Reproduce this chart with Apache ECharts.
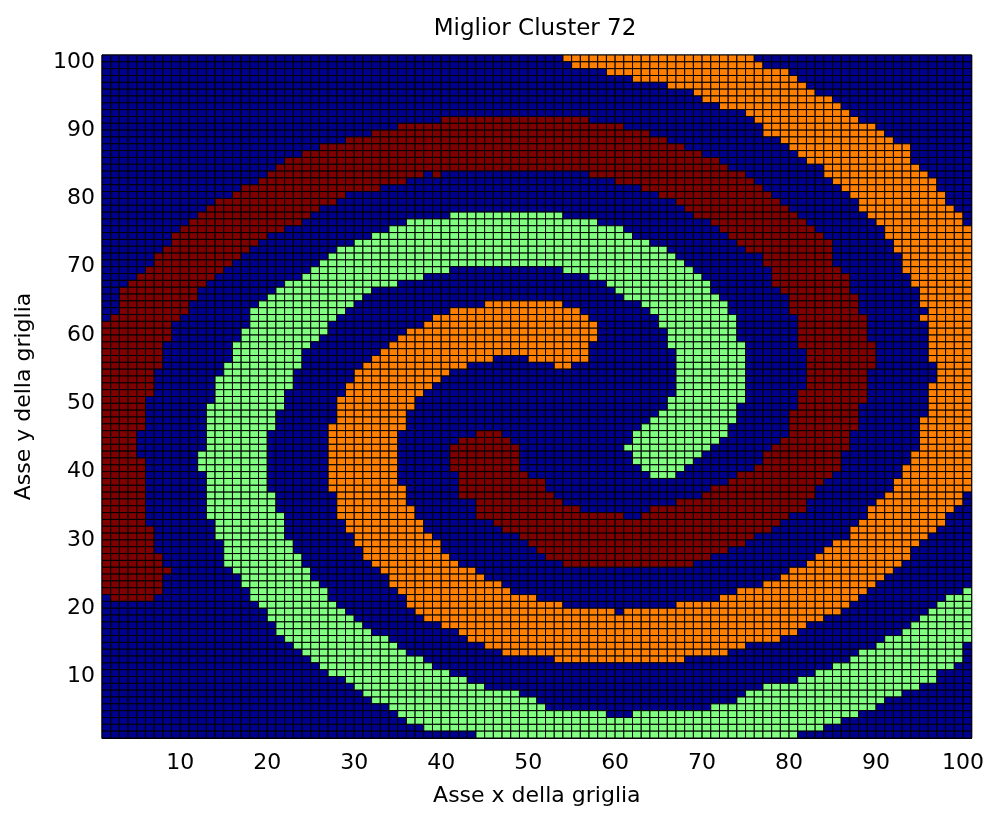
<!DOCTYPE html>
<html>
<head>
<meta charset="utf-8">
<title>Miglior Cluster 72</title>
<script src="https://cdn.jsdelivr.net/npm/echarts@6/dist/echarts.min.js"></script>
<style>
  html, body { margin: 0; padding: 0; background: #fff; }
  #chart { width: 987px; height: 816px; }
</style>
</head>
<body>
<div id="chart"></div>
<script>
// una stringa per riga della griglia, dall'alto (y = 100) verso il basso (y = 1)
// ogni stringa elenca gli intervalli di colonne (1..100) occupati dal cluster
const redRows = [
  '', '', '', '', '', '', '', '', '', '40-56',
  '35-60', '32-63', '29-65', '26-67', '24-69', '22-71', '21-72', '20-37,39,57-74', '19-35,60-75', '17-32,63-76',
  '16-28,65-77', '14-27,67-78', '13-25,68-79', '12-24,69-80', '11-23,71-81', '10-21,72-82', '9-19,73-83', '9-18,74-84', '8-17,75-84', '7-16,77-84',
  '7-15,77-84', '6-14,78-85', '5-13,78-86', '4-12,78-86', '3-11,79-86', '3-11,80-87', '3-10,80-87', '3-10,80-87', '2-9,81-88', '1-8,81-88',
  '1-8,81-88', '1-8,81-88', '1-7,81-89', '1-7,82-89', '1-7,82-89', '1-7,82-89', '1-6,82-88', '1-6,82-88', '1-6,82-88', '1-6,81-88',
  '1-5,81-88', '1-5,81-87', '1-5,80-87', '1-5,80-87', '1-5,80-87', '1-4,44-46,80-86', '1-4,42-47,79-86', '1-4,41-48,78-86', '1-4,41-48,77-85', '1-5,41-48,77-85',
  '1-5,41-48,76-85', '1-5,42-49,74-84', '1-5,42-51,73-83', '1-5,42-51,71-82', '1-5,42-52,70-82', '1-5,44-53,67-81', '1-5,44-55,64-81', '1-5,44-60,63-79', '1-5,46-78', '1-6,47-77',
  '1-6,49-75', '1-6,50-74', '1-6,51-72', '1-7,52-70', '1-7,54-68', '1-8', '1-7', '1-7', '1-7', '2-6',
  '', '', '', '', '', '', '', '', '', '',
  '', '', '', '', '', '', '', '', '', ''
]

const orangeRows = [
  '54-75', '55-76', '59-79', '62-80', '66-81', '69-82', '70-84', '72-85', '75-86', '76-87',
  '77-89', '77-90', '79-91', '80-93', '81-93', '82-93', '84-94', '84-95', '85-96', '86-96',
  '87-97', '88-97', '88-98', '89-99', '90-99', '91-100', '91-100', '92-100', '92-100', '93-100',
  '93-100', '93-100', '94-100', '94-100', '95-100', '95-100', '45-53,95-100', '41-55,96-100', '39-56,95-100', '38-57,96-100',
  '36-57,96-100', '35-57,96-100', '34-56,96-100', '33-56,96-100', '32-45,50-56,96-100', '31-42,53-54,97-100', '30-40,97-100', '30-39,97-100', '29-38,96-100', '29-37,96-100',
  '28-36,96-100', '28-36,96-100', '28-35,96-100', '28-35,95-100', '27-35,95-100', '27-34,95-100', '27-34,95-100', '27-34,95-100', '27-34,94-100', '27-34,94-100',
  '27-34,93-100', '27-34,93-100', '27-34,92-100', '27-35,92-100', '28-35,91-99', '28-35,90-99', '28-36,89-98', '28-36,89-97', '29-37,88-97', '29-37,87-96',
  '30-38,87-95', '30-39,85-94', '31-39,84-93', '31-40,83-93', '32-41,82-92', '33-43,80-91', '34-44,79-90', '34-46,77-89', '35-47,74-88', '36-50,72-87',
  '36-53,67-86', '37-59,61-85', '38-83', '40-81', '42-80', '43-78', '45-74', '47-72', '53-67', '',
  '', '', '', '', '', '', '', '', '', ''
]

const greenRows = [
  '', '', '', '', '', '', '', '', '', '',
  '', '', '', '', '', '', '', '', '', '',
  '', '', '', '41-53', '36-57', '34-60', '32-61', '30-63', '28-65', '27-66',
  '26-67', '25-40,54-68', '24-37,57-69', '22-34,59-70', '21-31,60-70', '20-30,61-71', '19-29,63-72', '18-28,64-72', '18-27,65-73', '18-26,65-73',
  '17-26,66-73', '17-25,66-73', '16-24,66-74', '16-23,67-74', '16-23,67-74', '15-23,67-74', '15-22,67-74', '14-22,67-74', '14-22,67-74', '14-21,67-74',
  '14-21,66-74', '13-21,66-73', '13-20,65-73', '13-20,64-73', '13-20,63-72', '13-19,62-72', '13-19,62-71', '13-19,61-70', '12-19,62-69', '12-19,62-68',
  '12-19,63-67', '13-19,64-66', '13-19', '13-19', '13-20', '13-20', '13-20', '13-21', '14-21', '14-21',
  '14-21', '15-22', '15-22', '15-23', '15-23', '16-24', '17-24', '17-25', '18-26,100', '18-26,98-100',
  '19-27,97-100', '20-28,96-100', '20-29,95-100', '21-30,94-100', '21-31,93-100', '22-33,91-100', '23-34,90-99', '24-35,88-99', '25-37,87-99', '26-38,85-98',
  '27-40,83-96', '29-42,81-96', '30-44,77-94', '31-48,75-92', '32-50,74-90', '34-51,71-89', '35-58,62-87', '36-85', '38-83', '44-80'
]

const tickValues = [10, 20, 30, 40, 50, 60, 70, 80, 90, 100]
// 0 = sfondo, 1 = verde, 2 = arancione, 3 = rosso scuro
const clusterColors = ['#00008F', '#80FF80', '#FF8000', '#800000']

function fillRow(row, spec, value) {
  if (!spec) return
  spec.split(',').forEach(function (part) {
    const ends = part.split('-').map(Number)
    const a = ends[0]
    const b = ends.length > 1 ? ends[1] : ends[0]
    for (let c = a; c <= b; c++) row[c - 1] = value
  })
}

const cells = []
for (let t = 0; t < 100; t++) {
  const row = new Array(100).fill(0)
  fillRow(row, greenRows[t], 1)
  fillRow(row, orangeRows[t], 2)
  fillRow(row, redRows[t], 3)
  const y = 100 - t
  for (let x = 1; x <= 100; x++) cells.push([x, y, row[x - 1]])
}

const FONT = "'DejaVu Sans', Verdana, sans-serif"
const FONT_SIZE = 22

function tickLabel(v) {
  const r = Math.round(v)
  return Math.abs(v - r) < 1e-6 && tickValues.indexOf(r) >= 0 ? String(r) : ''
}

const chart = echarts.init(document.getElementById('chart'))

const axisCommon = {
  type: 'value',
  min: 1,
  max: 101,
  splitNumber: 10,
  nameLocation: 'middle',
  nameTextStyle: { color: '#000', fontSize: FONT_SIZE, fontFamily: FONT },
  axisLine: { show: true, lineStyle: { color: '#000', width: 1 } },
  axisTick: { show: true, inside: true, length: 5, lineStyle: { color: '#000' } },
  splitLine: { show: false },
  axisLabel: { color: '#000', fontSize: FONT_SIZE, fontFamily: FONT, formatter: tickLabel }
}

chart.setOption({
  animation: false,
  backgroundColor: '#fff',
  title: {
    text: 'Miglior Cluster 72',
    left: 530,
    top: 13,
    textAlign: 'center',
    textStyle: { color: '#000', fontSize: 23, fontWeight: 'normal', fontFamily: FONT }
  },
  grid: {
    left: 102,
    right: 14,
    top: 55,
    bottom: 78,
    show: true,
    borderColor: '#000',
    borderWidth: 1,
    backgroundColor: clusterColors[0]
  },
  xAxis: Object.assign({}, axisCommon, {
    name: 'Asse x della griglia',
    nameGap: 47,
    axisLabel: Object.assign({}, axisCommon.axisLabel, { margin: 14 })
  }),
  yAxis: Object.assign({}, axisCommon, {
    name: 'Asse y della griglia',
    nameGap: 67,
    axisLabel: Object.assign({}, axisCommon.axisLabel, { margin: 7 })
  }),
  series: [{
    type: 'custom',
    data: cells,
    encode: { x: 0, y: 1 },
    renderItem: function (params, api) {
      const x = api.value(0)
      const y = api.value(1)
      const p0 = api.coord([x, y + 1])
      const p1 = api.coord([x + 1, y])
      return {
        type: 'rect',
        shape: { x: p0[0], y: p0[1], width: p1[0] - p0[0], height: p1[1] - p0[1] },
        style: { fill: clusterColors[api.value(2)], stroke: '#000', lineWidth: 1 }
      }
    }
  }]
})
</script>
</body>
</html>
